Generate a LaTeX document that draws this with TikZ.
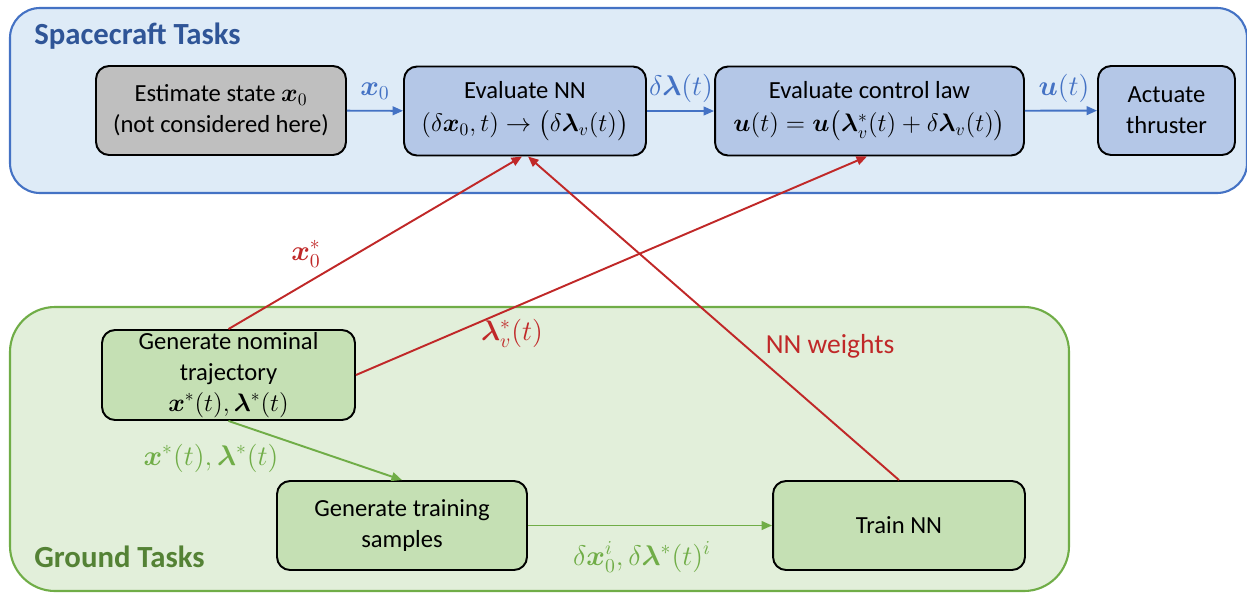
\documentclass[tikz,border=0pt]{standalone}
\usepackage{amsmath}
\usepackage{bm}
\usepackage{fontspec}
\setmainfont{Carlito}
\usetikzlibrary{arrows.meta,positioning}
\definecolor{scfill}{RGB}{222,235,247}
\definecolor{scborder}{RGB}{68,114,196}
\definecolor{sctitle}{RGB}{47,85,151}
\definecolor{scnode}{RGB}{180,199,231}
\definecolor{grfill}{RGB}{226,239,218}
\definecolor{grborder}{RGB}{112,173,71}
\definecolor{grtitle}{RGB}{84,130,53}
\definecolor{grnode}{RGB}{197,224,180}
\definecolor{graynode}{RGB}{191,191,191}
\definecolor{redarrow}{RGB}{192,40,40}
\tikzset{
  px/.style={x=0.02cm,y=-0.02cm},
  panel/.style={line width=1.2pt,rounded corners=0.6cm},
  box/.style={draw=black,line width=1.1pt,rounded corners=0.26cm,align=center,
    inner sep=0pt,font=\fontsize{14}{17.5}\selectfont},
  arr/.style={line width=1.1pt,-{Triangle[length=6pt,width=5pt]}},
  bluearr/.style={arr,draw=scborder},
  redarr/.style={arr,draw=redarrow},
  greenarr/.style={arr,draw=grborder},
  lbl/.style={font=\fontsize{14}{17}\selectfont,inner sep=1pt,scale=1.12,transform shape},
  title/.style={font=\fontsize{17.5}{20}\selectfont\bfseries,anchor=west,inner sep=0pt}
}
\begin{document}
\begin{tikzpicture}[px]
\useasboundingbox (0,0) rectangle (1247,592);
% panels
\begin{scope}
\clip (0,0) rectangle (1247,592);
\draw[panel,fill=scfill,draw=scborder] (10,8) rectangle (1247,193);
\draw[panel,fill=grfill,draw=grborder,rounded corners=0.9cm] (10,307) rectangle (1069,591);
\end{scope}
\node[title,text=sctitle] (sct) at (34,36) {Spacecraft Tasks};
\node[title,text=grtitle] (grt) at (34,557) {Ground Tasks};
% spacecraft nodes
\node[box,fill=graynode,minimum width=5.0cm,minimum height=1.78cm] (est) at (221,110.5)
  {Estimate state $\bm{x}_0$\\(not considered here)};
\node[box,fill=scnode,minimum width=4.84cm,minimum height=1.78cm] (enn) at (525,111)
  {Evaluate NN\\[1.5pt]$(\delta\bm{x}_0,t)\rightarrow\bigl(\delta\bm{\lambda}_v(t)\bigr)$};
\node[box,fill=scnode,minimum width=6.18cm,minimum height=1.78cm] (ctl) at (869.5,111)
  {Evaluate control law\\[1.5pt]$\bm{u}(t)=\bm{u}\bigl(\bm{\lambda}_v^*(t)+\delta\bm{\lambda}_v(t)\bigr)$};
\node[box,fill=scnode,minimum width=2.74cm,minimum height=1.78cm] (act) at (1166.5,110.5)
  {Actuate\\thruster};
% ground nodes
\node[box,fill=grnode,minimum width=5.06cm,minimum height=1.8cm] (nom) at (228.5,375)
  {Generate nominal\\trajectory\\$\bm{x}^*(t),\bm{\lambda}^*(t)$};
\node[box,fill=grnode,minimum width=5.0cm,minimum height=1.78cm] (trn) at (402,525.5)
  {Generate training\\samples};
\node[box,fill=grnode,minimum width=5.04cm,minimum height=1.78cm] (tnn) at (899,525.5)
  {Train NN};
% blue connectors
\draw[bluearr] (est) -- (enn);
\draw[bluearr] (enn) -- (ctl);
\draw[bluearr] (ctl) -- (act);
\node[lbl,text=scborder] (lx0) at (375,91) {$\bm{x}_0$};
\node[lbl,text=scborder] (ldl) at (681,88) {$\delta\bm{\lambda}(t)$};
\node[lbl,text=scborder] (lu) at (1064,88) {$\bm{u}(t)$};
% red connectors
\draw[redarr] (nom.north) -- ([xshift=-0.06cm]enn.south);
\draw[redarr] (nom.east) -- ([xshift=-0.05cm]ctl.south);
\draw[redarr] (tnn.north) -- ([xshift=0.06cm]enn.south);
\node[lbl,text=redarrow] (lxs) at (306,254) {$\bm{x}_0^*$};
\node[lbl,text=redarrow] (lls) at (512,333) {$\bm{\lambda}_v^*(t)$};
\node[lbl,text=redarrow] (lnw) at (830,346) {NN weights};
% green connectors
\draw[greenarr] (nom.south) -- (trn.north);
\draw[greenarr] (trn) -- (tnn);
\node[lbl,text=grborder] (lxl) at (211,458) {$\bm{x}^*(t),\bm{\lambda}^*(t)$};
\node[lbl,text=grborder] (ldx) at (642,557) {$\delta\bm{x}_0^i,\delta\bm{\lambda}^*(t)^i$};
\end{tikzpicture}
\end{document}
